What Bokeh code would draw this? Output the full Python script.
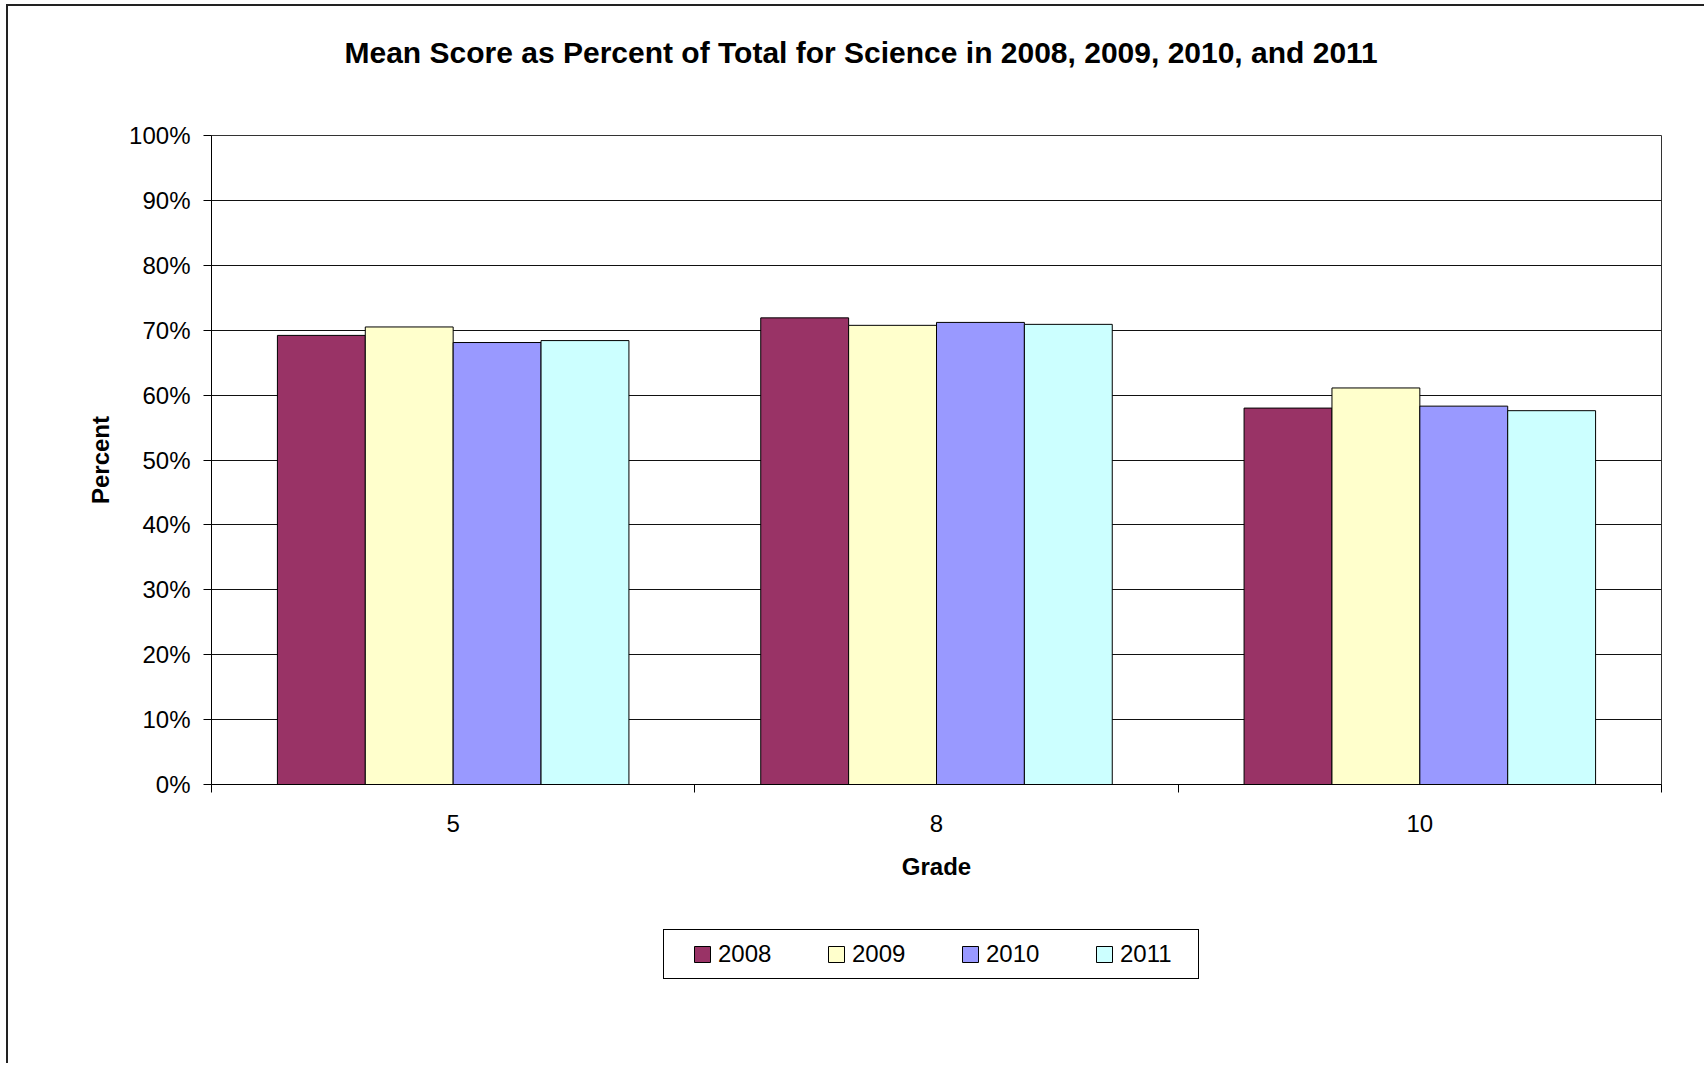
from bokeh.plotting import figure
from bokeh.models import (Range1d, FixedTicker, NumeralTickFormatter, Legend, LegendItem, Title)
from bokeh.layouts import column
from bokeh.embed import file_html
from bokeh.resources import INLINE

# ---- data ----
grades = ["5", "8", "10"]
years = ["2008", "2009", "2010", "2011"]
pct_2008 = [0.692, 0.719, 0.580]
pct_2009 = [0.705, 0.7075, 0.611]
pct_2010 = [0.681, 0.712, 0.583]
pct_2011 = [0.684, 0.709, 0.576]
y_ticks = [0.0, 0.1, 0.2, 0.3, 0.4, 0.5, 0.6, 0.7, 0.8, 0.9, 1.0]
colors = ["#993366", "#FFFFCC", "#9999FF", "#CCFFFF"]
series = [pct_2008, pct_2009, pct_2010, pct_2011]
title_text = "Mean Score as Percent of Total for Science in 2008, 2009, 2010, and 2011"

FONT = "Liberation Sans"
W, H = 1698, 899
FL, FT, FR, FB = 203, 129, 1653, 778

p = figure(width=W, height=H, output_backend="svg", toolbar_location=None,
           x_range=Range1d(0, len(grades)), y_range=Range1d(0, 1),
           min_border_left=FL, min_border_right=W - FR,
           min_border_top=FT, min_border_bottom=H - FB)
p.styles = {"border-left": "2px solid #222", "border-top": "2px solid #222",
            "margin-left": "6px", "margin-top": "4px"}

spacer = Title(text=" ", text_font_size="2px", standoff=58)
p.add_layout(spacer, "above")
main_title = Title(text=title_text, text_font=FONT, text_font_size="30px",
                   text_font_style="bold", text_color="#000000",
                   align="left", offset=133, standoff=10)
p.add_layout(main_title, "above")

bw = 1.0 / 5.5
offsets = [-1.5 * bw, -0.5 * bw, 0.5 * bw, 1.5 * bw]
for yr, vals, col, off in zip(years, series, colors, offsets):
    xs = [i + 0.5 + off for i in range(len(grades))]
    p.vbar(x=xs, top=vals, width=bw, bottom=0, fill_color=col,
           line_color="#000000", line_width=1)

# axes
xa = p.xaxis[0]
xa.ticker = FixedTicker(ticks=[i + 0.5 for i in range(len(grades))],
                        minor_ticks=list(range(len(grades) + 1)))
xa.major_label_overrides = {i + 0.5: g for i, g in enumerate(grades)}
xa.major_tick_out = 0
xa.major_tick_in = 0
xa.minor_tick_out = 8
xa.minor_tick_in = 0
xa.minor_tick_line_color = "#000000"
xa.major_label_standoff = 22
xa.major_label_text_font = FONT
xa.major_label_text_font_size = "24px"
xa.major_label_text_color = "#000000"
xa.axis_label = "Grade"
xa.axis_label_text_font = FONT
xa.axis_label_text_font_size = "24px"
xa.axis_label_text_font_style = "bold"
xa.axis_label_text_color = "#000000"
xa.axis_label_standoff = 18
xa.axis_line_color = "#000000"

ya = p.yaxis[0]
ya.ticker = FixedTicker(ticks=y_ticks)
ya.formatter = NumeralTickFormatter(format="0%")
ya.major_tick_out = 8
ya.major_tick_in = 0
ya.minor_tick_out = 0
ya.minor_tick_in = 0
ya.major_tick_line_color = "#000000"
ya.major_label_standoff = 13
ya.major_label_text_font = FONT
ya.major_label_text_font_size = "24px"
ya.major_label_text_color = "#000000"
ya.axis_label = "Percent"
ya.axis_label_text_font = FONT
ya.axis_label_text_font_size = "24px"
ya.axis_label_text_font_style = "bold"
ya.axis_label_text_color = "#000000"
ya.axis_label_standoff = 12
ya.axis_line_color = "#000000"

p.xgrid.grid_line_color = None
p.ygrid.grid_line_color = "#111111"
p.ygrid.grid_line_width = 1
p.outline_line_color = "#333333"
p.outline_line_width = 1
p.background_fill_color = "#ffffff"
p.border_fill_color = "#ffffff"

# ---- legend strip (second canvas under the chart; its view range keeps the
# same bars out of sight so that only the legend shows) ----
H2 = 160
p2 = figure(width=W, height=H2, output_backend="svg", toolbar_location=None,
            x_range=Range1d(100, 101), y_range=Range1d(100, 101),
            x_axis_type=None, y_axis_type=None, min_border=0)
p2.styles = {"border-left": "2px solid #222", "margin-left": "6px"}
p2.outline_line_color = None
p2.background_fill_color = "#ffffff"
p2.border_fill_color = "#ffffff"
items = []
for yr, vals, col, off in zip(years, series, colors, offsets):
    xs = [i + 0.5 + off for i in range(len(grades))]
    r = p2.vbar(x=xs, top=vals, width=bw, bottom=0, fill_color=col,
                line_color="#000000", line_width=1)
    items.append(LegendItem(label=yr, renderers=[r]))

legend = Legend(items=items, orientation="horizontal", location=(452, 84))
legend.title = " "
legend.title_location = "left"
legend.title_text_font_size = "2px"
legend.title_standoff = 16
legend.label_text_font = FONT
legend.label_text_font_size = "24px"
legend.label_text_color = "#000000"
legend.glyph_width = 20
legend.glyph_height = 20
legend.label_standoff = 6
legend.label_width = 68
legend.spacing = 40
legend.padding = 10
legend.margin = 0
legend.border_line_color = "#000000"
legend.border_line_alpha = 1.0
legend.border_line_width = 1
legend.background_fill_color = "#ffffff"
p2.add_layout(legend, "center")

layout = column(p, p2, spacing=0)
open("out.html", "w").write(file_html(layout, INLINE))
